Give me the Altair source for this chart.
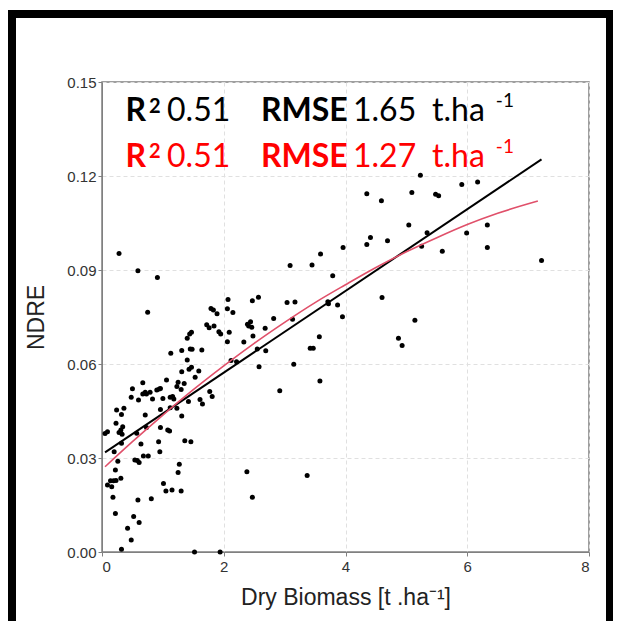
import altair as alt
import pandas as pd

# ---- scatter points (Dry biomass [t/ha], NDRE) ----
pts_x = [0.28, 0.59, 0.91, 0.75,
         0.05, 0.09, 0.23, 0.34, 0.31, 0.28, 0.33, 0.24, 0.36, 0.32, 0.48, 0.50, 0.60, 0.57,
         0.32, 0.64, 0.20, 0.26, 0.54, 0.58, 0.61, 0.22, 0.31, 0.14, 0.19, 0.23, 0.09, 0.16,
         0.18, 0.59, 0.22, 0.52, 0.61, 0.42, 0.48, 0.32,
         0.67, 0.71, 0.67, 0.73, 0.79, 0.90, 0.94, 0.96, 0.83, 1.00, 1.12, 1.16, 1.18, 0.71,
         0.96, 1.12, 1.23, 1.31, 1.42, 0.73, 0.96, 1.08, 1.11, 0.93, 0.95, 1.36, 1.46, 0.68,
         0.76, 1.27, 1.25, 1.01, 1.05, 1.15, 1.30, 0.81, 1.52, 1.94,
         1.06, 1.25, 1.23, 1.30, 1.35, 1.13, 1.31, 1.48, 1.45, 1.40, 1.47, 1.43, 1.31, 1.47,
         1.44, 1.40, 1.53, 1.59, 1.64,
         1.61, 1.65, 1.77, 1.81, 1.79, 1.83, 1.89, 2.06, 2.15, 2.07, 1.72, 1.76, 1.84, 1.92,
         1.95, 2.09, 2.06, 2.12, 2.21,
         2.47, 2.57, 3.04, 3.17, 3.09, 2.39, 2.44, 2.41, 2.46, 2.68, 2.82, 3.13, 2.48, 2.33,
         2.55, 2.69, 2.58, 3.15, 2.92, 2.38, 2.47, 3.37, 3.42, 3.47, 3.57, 3.58, 3.45, 3.59,
         3.71, 3.72, 3.79, 3.87, 3.95, 3.96, 4.35, 4.59, 5.09, 5.48, 5.53, 5.91, 6.17, 5.23,
         5.04, 5.34, 4.41, 4.35, 4.69, 5.25, 5.59, 5.99, 6.33, 6.33, 7.22, 4.60, 5.14, 4.87,
         4.93]
pts_y = [0.0953, 0.0898, 0.0876, 0.0765,
         0.0378, 0.0384, 0.0411, 0.0400, 0.0389, 0.0381, 0.0376, 0.0453, 0.0459, 0.0439, 0.0494, 0.0521, 0.0485, 0.0379,
         0.0347, 0.0345, 0.0320, 0.0290, 0.0294, 0.0292, 0.0286, 0.0262, 0.0235, 0.0227, 0.0227, 0.0228, 0.0214, 0.0208,
         0.0175, 0.0166, 0.0123, 0.0113, 0.0094, 0.0076, 0.0038, 0.0009,
         0.0540, 0.0510, 0.0504, 0.0504, 0.0510, 0.0517, 0.0520, 0.0522, 0.0488, 0.0490, 0.0494, 0.0496, 0.0488, 0.0437,
         0.0455, 0.0460, 0.0459, 0.0434, 0.0480, 0.0397, 0.0397, 0.0389, 0.0386, 0.0352, 0.0320, 0.0355, 0.0352, 0.0306,
         0.0306, 0.0280, 0.0254, 0.0219, 0.0195, 0.0198, 0.0195, 0.0170, 0.0000, 0.0000,
         0.0549, 0.0542, 0.0528, 0.0519, 0.0538, 0.0634, 0.0643, 0.0647, 0.0648, 0.0613, 0.0590, 0.0583, 0.0575, 0.0701,
         0.0696, 0.0682, 0.0558, 0.0578, 0.0645,
         0.0487, 0.0472, 0.0512, 0.0496, 0.0777, 0.0772, 0.0760, 0.0776, 0.0764, 0.0806, 0.0725, 0.0716, 0.0721, 0.0703,
         0.0696, 0.0701, 0.0671, 0.0611, 0.0607,
         0.0802, 0.0813, 0.0796, 0.0798, 0.0914, 0.0727, 0.0735, 0.0721, 0.0717, 0.0714, 0.0745, 0.0743, 0.0689, 0.0670,
         0.0648, 0.0642, 0.0591, 0.0599, 0.0515, 0.0256, 0.0175, 0.0244, 0.0650, 0.0650, 0.0687, 0.0546, 0.0916, 0.0951,
         0.0799, 0.0792, 0.0882, 0.0788, 0.0751, 0.0972, 0.1143, 0.1121, 0.1147, 0.1142, 0.1137, 0.1173, 0.1181, 0.1202,
         0.1044, 0.1019, 0.1004, 0.0981, 0.0993, 0.0976, 0.0960, 0.1018, 0.1044, 0.0972, 0.0930, 0.0812, 0.0740, 0.0682,
         0.0659]

# ---- linear fit (black) ----
lin_x = [0.05, 7.22]
lin_y = [0.0318, 0.1253]

# ---- curved fit (red) ----
crv_x = [0.05, 0.5, 1.0, 1.5, 2.0, 2.5, 3.0, 3.5, 4.0, 4.5, 5.0, 5.5, 6.0, 6.5, 7.16]
crv_y = [0.0272, 0.0352, 0.0437, 0.0518, 0.0594, 0.0666, 0.0733, 0.0796, 0.0853,
         0.0908, 0.0958, 0.1003, 0.1045, 0.1081, 0.1120]

# ---- annotation texts ----
bold_txt = ["R", "RMSE", "R", "RMSE"]
bold_x = [0.386, 2.612, 0.386, 2.612]
bold_y = [0.1376, 0.1376, 0.1230, 0.1230]
bold_col = ["black", "black", "#FF0000", "#FF0000"]

sq_txt = ["2", "2"]
sq_x = [0.772, 0.772]
sq_y = [0.1401, 0.1256]
sq_col = ["black", "#FF0000"]

reg_txt = ["0.51", "1.65", "t.ha", "0.51", "1.27", "t.ha"]
reg_x = [1.068, 4.123, 5.421, 1.068, 4.123, 5.421]
reg_y = [0.1376, 0.1376, 0.1376, 0.1230, 0.1230, 0.1230]
reg_col = ["black", "black", "black", "#FF0000", "#FF0000", "#FF0000"]

sup_txt = ["-1", "-1"]
sup_x = [6.47, 6.47]
sup_y = [0.1420, 0.1275]
sup_col = ["black", "#FF0000"]

pts = pd.DataFrame({"x": pts_x, "y": pts_y})
lin = pd.DataFrame({"x": lin_x, "y": lin_y})
crv = pd.DataFrame({"x": crv_x, "y": crv_y})
bold = pd.DataFrame({"x": bold_x, "y": bold_y, "t": bold_txt, "c": bold_col})
sq = pd.DataFrame({"x": sq_x, "y": sq_y, "t": sq_txt, "c": sq_col})
reg = pd.DataFrame({"x": reg_x, "y": reg_y, "t": reg_txt, "c": reg_col})
sup = pd.DataFrame({"x": sup_x, "y": sup_y, "t": sup_txt, "c": sup_col})

xs = alt.Scale(domain=[0, 8], nice=False, zero=True)
ys = alt.Scale(domain=[0, 0.15], nice=False, zero=True)

xaxis = alt.Axis(values=[0, 2, 4, 6, 8], format="d", title="Dry Biomass [t .ha⁻¹]",
                 grid=True, gridDash=[4, 3], gridColor="#e0e0e0",
                 domainColor="#808080", tickColor="#808080", tickSize=4,
                 labelFont="Liberation Sans", labelFontSize=15, labelColor="#333333",
                 labelPadding=3,
                 titleFont="Liberation Sans", titleFontSize=23, titleFontWeight="normal",
                 titleColor="#222222", titlePadding=12)
yaxis = alt.Axis(values=[0, 0.03, 0.06, 0.09, 0.12, 0.15], format=".2f", title="NDRE",
                 grid=True, gridDash=[4, 3], gridColor="#e0e0e0",
                 domainColor="#808080", tickColor="#808080", tickSize=4,
                 labelFont="Liberation Sans", labelFontSize=15, labelColor="#333333",
                 labelPadding=2,
                 titleFont="Liberation Sans", titleFontSize=23, titleFontWeight="normal",
                 titleColor="#222222", titlePadding=18)

points = alt.Chart(pts).mark_circle(size=25, color="black", opacity=1).encode(
    x=alt.X("x:Q", scale=xs, axis=xaxis),
    y=alt.Y("y:Q", scale=ys, axis=yaxis),
)
black_line = alt.Chart(lin).mark_line(color="black", strokeWidth=2).encode(
    x=alt.X("x:Q", scale=xs), y=alt.Y("y:Q", scale=ys))
red_line = alt.Chart(crv).mark_line(color="#E0506A", strokeWidth=1.6, interpolate="monotone").encode(
    x=alt.X("x:Q", scale=xs), y=alt.Y("y:Q", scale=ys))


def text_layer(df, size, weight):
    return alt.Chart(df).mark_text(font="Lato", fontSize=size, fontWeight=weight,
                                   align="left", baseline="alphabetic").encode(
        x=alt.X("x:Q", scale=xs), y=alt.Y("y:Q", scale=ys), text="t:N",
        color=alt.Color("c:N", scale=None))


t_bold = text_layer(bold, 32, "bold")
t_sq = text_layer(sq, 20, "bold")
t_reg = text_layer(reg, 32, "normal")
t_sup = text_layer(sup, 19, "normal")

border = alt.Chart(pts).mark_rect(fill="white", fillOpacity=0, stroke="black",
                                  strokeWidth=7).encode(
    x=alt.value(-89.8), x2=alt.value(507.5), y=alt.value(-67.8), y2=alt.value(570))

chart = alt.layer(points, black_line, red_line, t_bold, t_sq, t_reg, t_sup, border).properties(
    width=487, height=470,
    padding={"left": 102, "top": 82, "right": 29, "bottom": 69},
    autosize=alt.AutoSizeParams(type="none"),
    background="white",
).configure_view(stroke="#808080", strokeWidth=1.5)

chart.save("out.html", embed_options={"renderer": "svg", "actions": False})
